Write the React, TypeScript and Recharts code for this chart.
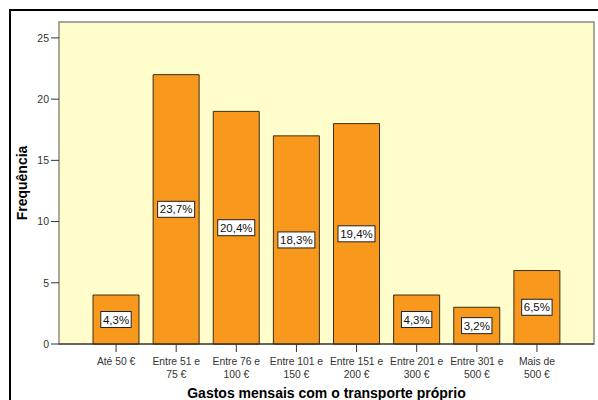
import React from 'react';
import { BarChart, Bar, XAxis, YAxis, LabelList, usePlotArea } from 'recharts';

const categories = [
  'Até 50 €',
  'Entre 51 e\n75 €',
  'Entre 76 e\n100 €',
  'Entre 101 e\n150 €',
  'Entre 151 e\n200 €',
  'Entre 201 e\n300 €',
  'Entre 301 e\n500 €',
  'Mais de\n500 €',
];
const frequencies = [4, 22, 19, 17, 18, 4, 3, 6];
const percents = ['4,3%', '23,7%', '20,4%', '18,3%', '19,4%', '4,3%', '3,2%', '6,5%'];
const yTicks = [0, 5, 10, 15, 20, 25];

const data = categories.map((name, i) => ({ name, value: frequencies[i], pct: percents[i] }));

const FONT = '"Liberation Sans", Arial, sans-serif';

// plot background with grey frame, drawn behind the bars
function PlotBackground() {
  const area = usePlotArea();
  if (!area) return null;
  return (
    <rect
      x={area.x}
      y={area.y}
      width={area.width}
      height={area.height}
      fill="#FFFDCC"
      stroke="#8c8c80"
      strokeWidth={1.5}
    />
  );
}

function CategoryTick(props: any) {
  const { x, y, payload } = props;
  const lines = String(payload.value).split('\n');
  return (
    <g transform={`translate(${x},${y})`}>
      {lines.map((line, i) => (
        <text key={i} x={0} y={i * 12.5} dy={11} textAnchor="middle" fontSize={10.3} fill="#333" fontFamily={FONT}>
          {line}
        </text>
      ))}
    </g>
  );
}

function YLabel(props: any) {
  const { viewBox } = props;
  const cy = viewBox.y + viewBox.height / 2;
  return (
    <text
      x={22}
      y={cy}
      transform={`rotate(-90, 22, ${cy})`}
      textAnchor="middle"
      dominantBaseline="central"
      fontSize={14}
      fontWeight="bold"
      fill="#000"
      fontFamily={FONT}
    >
      Frequência
    </text>
  );
}

function PctLabel(props: any) {
  const { x, y, width, height, value } = props;
  const cx = x + width / 2;
  const cy = y + height / 2;
  const w = String(value).length * 6.6 + 4;
  return (
    <g>
      <rect x={cx - w / 2} y={cy - 8} width={w} height={16} fill="#fff" stroke="#222" strokeWidth={1} />
      <text x={cx} y={cy + 4} textAnchor="middle" fontSize={11.5} fill="#111" fontFamily={FONT}>
        {value}
      </text>
    </g>
  );
}

export default function App() {
  return (
    <div style={{ position: 'absolute', left: 0, top: 0, width: 598, height: 400, background: '#fff', overflow: 'hidden' }}>
      <div
        style={{
          position: 'absolute',
          left: 9,
          top: 9,
          width: 600,
          height: 400,
          borderTop: '2px solid #000',
          borderLeft: '2px solid #000',
        }}
      />
      <div style={{ position: 'absolute', left: 0, top: 0 }}>
        <BarChart
          width={598}
          height={400}
          data={data}
          margin={{ top: 22, right: 4, left: 0, bottom: 0 }}
          barSize={46}
        >
          <PlotBackground />
          <XAxis
            dataKey="name"
            interval={0}
            padding={{ left: 27, right: 27 }}
            tick={<CategoryTick />}
            tickSize={8}
            tickLine={{ stroke: '#333' }}
            axisLine={{ stroke: '#222' }}
            height={56}
            label={{
              value: 'Gastos mensais com o transporte próprio',
              position: 'insideBottom',
              offset: 2,
              fontSize: 14,
              fontWeight: 'bold',
              fill: '#000',
              fontFamily: FONT,
            }}
          />
          <YAxis
            width={59}
            domain={[0, 26.3]}
            ticks={yTicks}
            interval={0}
            tickSize={8}
            tickLine={{ stroke: '#333' }}
            axisLine={false}
            tick={{ fontSize: 10.5, fill: '#333', fontFamily: FONT }}
            label={<YLabel />}
          />
          <Bar dataKey="value" fill="#F8981D" stroke="#3d2e10" strokeWidth={1} isAnimationActive={false}>
            <LabelList dataKey="pct" content={<PctLabel />} />
          </Bar>
        </BarChart>
      </div>
    </div>
  );
}
